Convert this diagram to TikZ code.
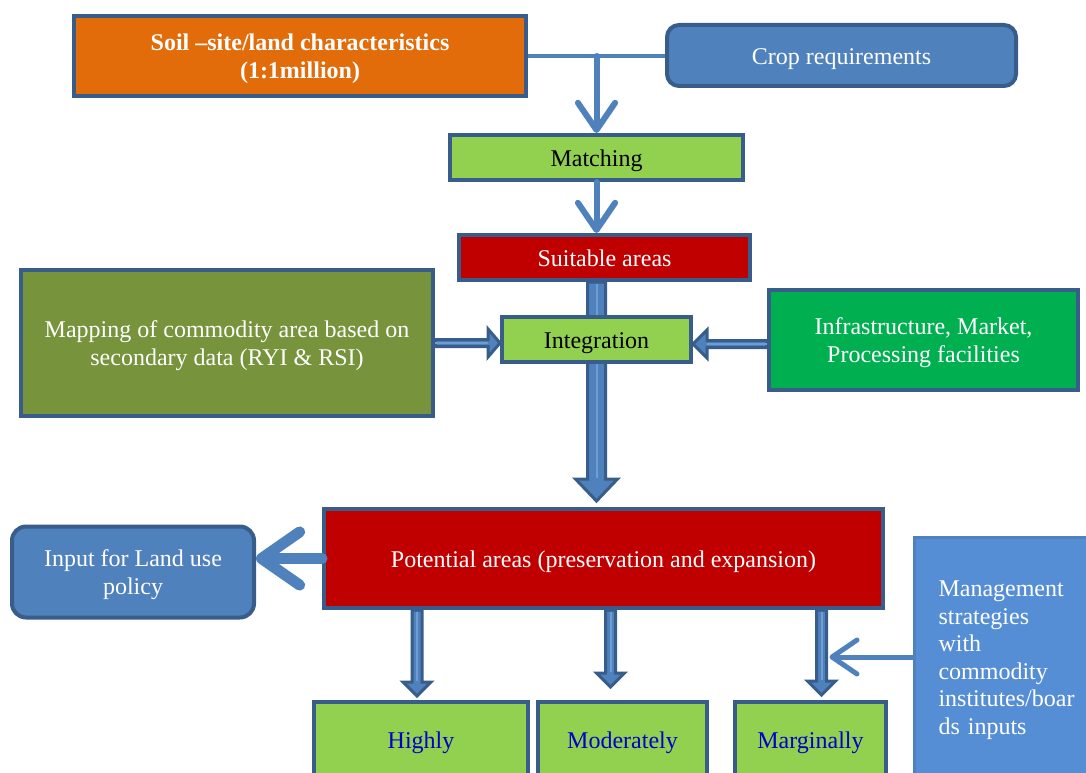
\documentclass[tikz,border=0pt]{standalone}
\usepackage{fontspec}
\setmainfont{Liberation Serif}
\usetikzlibrary{arrows.meta,calc}
\definecolor{bord}{HTML}{385D8A}
\definecolor{blueA}{HTML}{4F81BD}
\definecolor{blueL}{HTML}{6E9DD4}
\definecolor{orangeA}{HTML}{E36C0A}
\definecolor{lgreen}{HTML}{92D050}
\definecolor{redA}{HTML}{C00000}
\definecolor{olive}{HTML}{77933C}
\definecolor{greenA}{HTML}{00B050}
\definecolor{mgmt}{HTML}{558ED5}
\definecolor{textblue}{HTML}{0000CC}
\pgfdeclarelayer{bg}
\pgfsetlayers{bg,main}
\newcommand\boxtext[2][c]{\raisebox{0pt}[\dimexpr\height+6pt\relax][\depth]{\begin{tabular}{@{}#1@{}}#2\end{tabular}}}
\tikzset{
  base/.style={draw=bord, line width=4pt, inner sep=0pt,
    font=\fontsize{24}{27.6}\selectfont, text=white},
  blockarrow/.style={fill=blueA, draw=bord, line width=3pt, line join=miter},
  openarrow/.style={draw=blueA, line width=#1, line cap=round,
    -{Straight Barb[round, length=2.2*#1+14pt, width=3.2*#1+18pt]}},
}
% vertical block arrow: start, tip, shaft half-width, head half-width, head length
\newcommand\blockdown[5]{%
  \path[blockarrow] let \p1=#1, \p2=#2 in
   (\x1-#3,\y1) -- (\x1-#3,\y2+#5) -- (\x1-#4,\y2+#5) -- (\x1,\y2)
   -- (\x1+#4,\y2+#5) -- (\x1+#3,\y2+#5) -- (\x1+#3,\y1) -- cycle;
  \draw[blueL, line width=2pt] let \p1=#1, \p2=#2 in (\x1,\y1-1.5pt) -- (\x1,\y2+#5+1pt);}
% horizontal block arrow: start, tip, shaft half, head half, head length (signed: + for rightwards)
\newcommand\blockh[5]{%
  \path[blockarrow] let \p1=#1, \p2=#2 in
   (\x1,\y1-#3) -- (\x2-#5,\y1-#3) -- (\x2-#5,\y1-#4) -- (\x2,\y1)
   -- (\x2-#5,\y1+#4) -- (\x2-#5,\y1+#3) -- (\x1,\y1+#3) -- cycle;
  \draw[blueL, line width=2pt] let \p1=#1, \p2=#2 in (\x1,\y1) -- (\x2-#5,\y1);}
\begin{document}
\begin{tikzpicture}[x=1pt,y=-1pt]
\useasboundingbox (0,0) rectangle (1086,773);

% nodes
\node[base, fill=orangeA, minimum width=452, minimum height=80, font=\fontsize{24}{27.6}\selectfont\bfseries]
  (soil) at (300,56) {\boxtext{Soil --site/land characteristics\\(1:1million)}};
\node[base, fill=blueA, rounded corners=12pt, minimum width=349, minimum height=61]
  (crop) at (841.5,55.5) {\boxtext{Crop requirements}};
\node[base, fill=lgreen, text=black, minimum width=293, minimum height=45]
  (match) at (596.5,157.5) {\boxtext{Matching}};
\node[base, fill=redA, minimum width=291, minimum height=45]
  (suit) at (604.5,257.5) {\boxtext{Suitable areas}};
\node[base, fill=olive, minimum width=412, minimum height=146]
  (mapping) at (227,343) {\boxtext{Mapping of commodity area based on\\secondary data (RYI \& RSI)}};
\node[base, fill=greenA, minimum width=309, minimum height=100]
  (infra) at (923.5,340) {\boxtext{Infrastructure, Market,\\Processing facilities}};
\node[base, fill=redA, minimum width=559, minimum height=99]
  (pot) at (603.5,558.5) {\boxtext{Potential areas (preservation and expansion)}};
\node[base, fill=blueA, rounded corners=14pt, minimum width=242, minimum height=91]
  (input) at (133,572) {\boxtext{Input for Land use\\policy}};
\node[base, fill=lgreen, text=textblue, minimum width=214, minimum height=76]
  (high) at (421,740) {\boxtext{Highly}};
\node[base, fill=lgreen, text=textblue, minimum width=169, minimum height=76]
  (mod) at (622.5,740) {\boxtext{Moderately}};
\node[base, fill=lgreen, text=textblue, minimum width=151, minimum height=76]
  (marg) at (810.5,740) {\boxtext{Marginally}};
\node[base, draw=blueA, line width=3pt, fill=mgmt, text width=150pt,
  inner xsep=24pt, minimum height=240, anchor=west]
  (mgmt) at (913,657) {\boxtext[l]{Management\\strategies\\with\\commodity\\institutes/boar\\ds inputs}};

\node[base, fill=lgreen, text=black, minimum width=189, minimum height=45]
  (integ) at (596.5,339.5) {\boxtext{Integration}};

\begin{pgfonlayer}{bg}
  % top connector
  \draw[draw=blueA, line width=4pt] (soil.east) -- (soil.east -| crop.west);
  \coordinate (j) at (soil.east -| match.north);
  \blockdown{(integ.north |- suit.south)}{([yshift=6pt]integ.center |- pot.north)}{9pt}{21pt}{22pt}
\end{pgfonlayer}

\draw[openarrow=6pt] (j) -- (match.north);
\draw[openarrow=6pt] (match.south) -- (match.south |- suit.north);

% side block arrows into Integration
\blockh{(mapping.east)}{(mapping.east -| integ.west)}{3.5pt}{14pt}{12pt}
\blockh{([yshift=-4pt]infra.west)}{([yshift=-4pt]infra.west -| integ.east)}{3.5pt}{14pt}{-14pt}

% potential -> input
\draw[openarrow=11pt] (pot.west) -- (pot.west -| input.east);

% downward arrows to classes
\blockdown{([xshift=-4pt]high.north |- pot.south)}{([xshift=-4pt,yshift=4pt]high.north)}{5pt}{14pt}{14pt}
\blockdown{([xshift=-12pt]mod.north |- pot.south)}{([xshift=-12pt,yshift=13pt]mod.north)}{5pt}{14pt}{14pt}
\blockdown{([xshift=11pt]marg.north |- pot.south)}{([xshift=11pt,yshift=5pt]marg.north)}{5pt}{14pt}{14pt}
\coordinate (mshaft) at ([xshift=19pt]marg.north);

% management -> marginally arrow
\draw[openarrow=5pt] (mgmt.west) -- (mgmt.west -| mshaft);
\end{tikzpicture}
\end{document}
